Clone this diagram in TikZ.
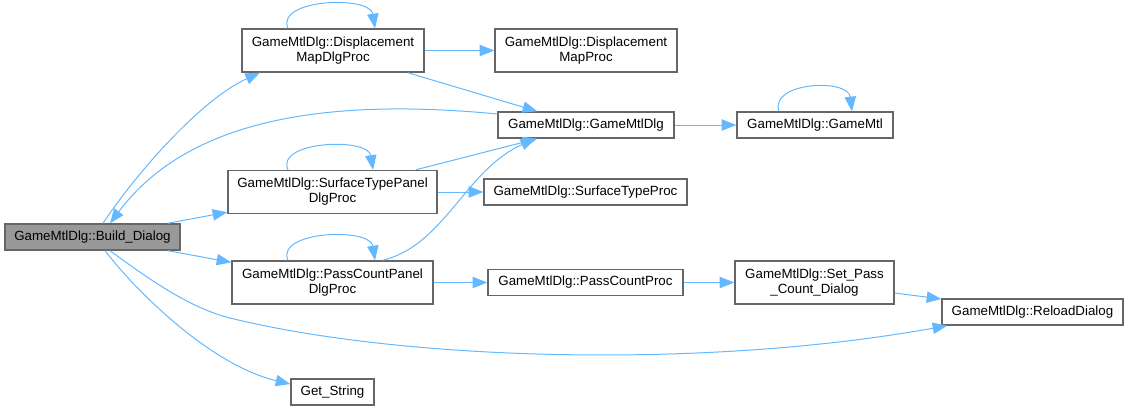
\documentclass[tikz,border=0pt]{standalone}
\usepackage{fontspec}
\setmainfont{Liberation Sans}
\usepackage{xcolor}
\usepackage{tikz}
\usetikzlibrary{arrows.meta,positioning,calc}
\definecolor{EdgeBlue}{HTML}{63B8FF}
\definecolor{BoxLine}{HTML}{666666}
\definecolor{RootFill}{HTML}{999999}
\tikzset{
  fnbox/.style={draw=BoxLine,line width=1pt,fill=white,inner sep=0pt,
    minimum height=19.5pt,align=center,font=\fontsize{10}{11.25}\selectfont},
  fnboxtwo/.style={fnbox,minimum height=32.25pt},
  rootbox/.style={fnbox,fill=RootFill},
  callarrow/.style={draw=EdgeBlue,line width=0.75pt,
    -{Triangle[length=11pt,width=8.5pt]}}}

\begin{document}
\begin{tikzpicture}[x=0.75pt,y=-0.75pt]
  \useasboundingbox (0,0) rectangle (1128,411);
  % functions
  \node[rootbox,minimum width=131.25pt] (build) at (92.5,237) {GameMtlDlg::Build\_Dialog};
  \node[fnboxtwo,minimum width=136.5pt] (dmdp) at (333,50.5) {GameMtlDlg::Displacement\\MapDlgProc};
  \node[fnboxtwo,minimum width=136.5pt] (dmp) at (586,50.5) {GameMtlDlg::Displacement\\MapProc};
  \node[fnbox,minimum width=132pt] (gmd) at (586,125) {GameMtlDlg::GameMtlDlg};
  \node[fnbox,minimum width=117pt] (gm) at (815,125) {GameMtlDlg::GameMtl};
  \node[fnboxtwo,minimum width=156.75pt] (stpdp) at (332.5,192) {GameMtlDlg::SurfaceTypePanel\\DlgProc};
  \node[fnbox,minimum width=152.25pt] (stp) at (585.5,192) {GameMtlDlg::SurfaceTypeProc};
  \node[fnboxtwo,minimum width=150.75pt] (pcpdp) at (332.5,282.5) {GameMtlDlg::PassCountPanel\\DlgProc};
  \node[fnbox,minimum width=146.25pt] (pcp) at (585.5,282.5) {GameMtlDlg::PassCountProc};
  \node[fnboxtwo,minimum width=119.25pt] (spcd) at (814.5,282.5) {GameMtlDlg::Set\_Pass\\\_Count\_Dialog};
  \node[fnbox,minimum width=135.75pt] (rd) at (1032.5,312) {GameMtlDlg::ReloadDialog};
  \node[fnbox,minimum width=62.25pt] (gs) at (332.5,392) {Get\_String};
  % calls from Build_Dialog
  \draw[callarrow] ($(build.north)+(10.5,0)$) .. controls (135,175) and (200,100) .. ($(dmdp.south)+(-73,0)$);
  \draw[callarrow] ($(gmd.west)+(0,-11)$) .. controls (300,95) and (180,130) .. ($(build.north)+(17.5,0)$);
  \draw[callarrow] ($(build.north east)+(-13,0)$) -- ($(stpdp.south west)+(0,-2)$);
  \draw[callarrow] ($(build.south east)+(-13,0)$) -- ($(pcpdp.north west)+(0,2)$);
  \draw[callarrow] ($(build.south)+(17.5,0)$) .. controls (150,280) and (190,308) .. (230,318)
    .. controls (400,360) and (700,370) .. ($(rd.south west)+(6,0)$);
  \draw[callarrow] ($(build.south)+(12.5,0)$) .. controls (135,290) and (210,365) .. ($(gs.west)+(0,-8)$);
  % dialog procs
  \draw[callarrow] ($(dmdp.north)+(-45,0)$) .. controls (275,-1) and (370,-5) .. ($(dmdp.north)+(42,0)$);
  \draw[callarrow] (dmdp.east) -- (dmp.west);
  \draw[callarrow] ($(dmdp.south east)+(-17,0)$) -- ($(gmd.north west)+(40,0)$);
  \draw[callarrow] ($(stpdp.north)+(-44.5,0)$) .. controls (275,141) and (368,137) .. ($(stpdp.north)+(40.5,0)$);
  \draw[callarrow] ($(stpdp.north east)+(-22,0)$) -- ($(gmd.south west)+(40,0)$);
  \draw[callarrow] (stpdp.east) -- (stp.west);
  \draw[callarrow] ($(pcpdp.north)+(-44.5,0)$) .. controls (275,231) and (370,227) .. ($(pcpdp.north)+(42.5,0)$);
  \draw[callarrow] ($(pcpdp.north)+(50,0)$) .. controls (445,245) and (465,170) .. ($(gmd.south west)+(38,0)$);
  \draw[callarrow] (pcpdp.east) -- (pcp.west);
  % right side
  \draw[callarrow] (gmd.east) -- (gm.west);
  \draw[callarrow] ($(gm.north)+(-36,0)$) .. controls (769,82) and (848,78) .. ($(gm.north)+(37,0)$);
  \draw[callarrow] (pcp.east) -- (spcd.west);
  \draw[callarrow] ($(spcd.east)+(0,10.5)$) -- ($(rd.west)+(0,-13)$);
\end{tikzpicture}
\end{document}
